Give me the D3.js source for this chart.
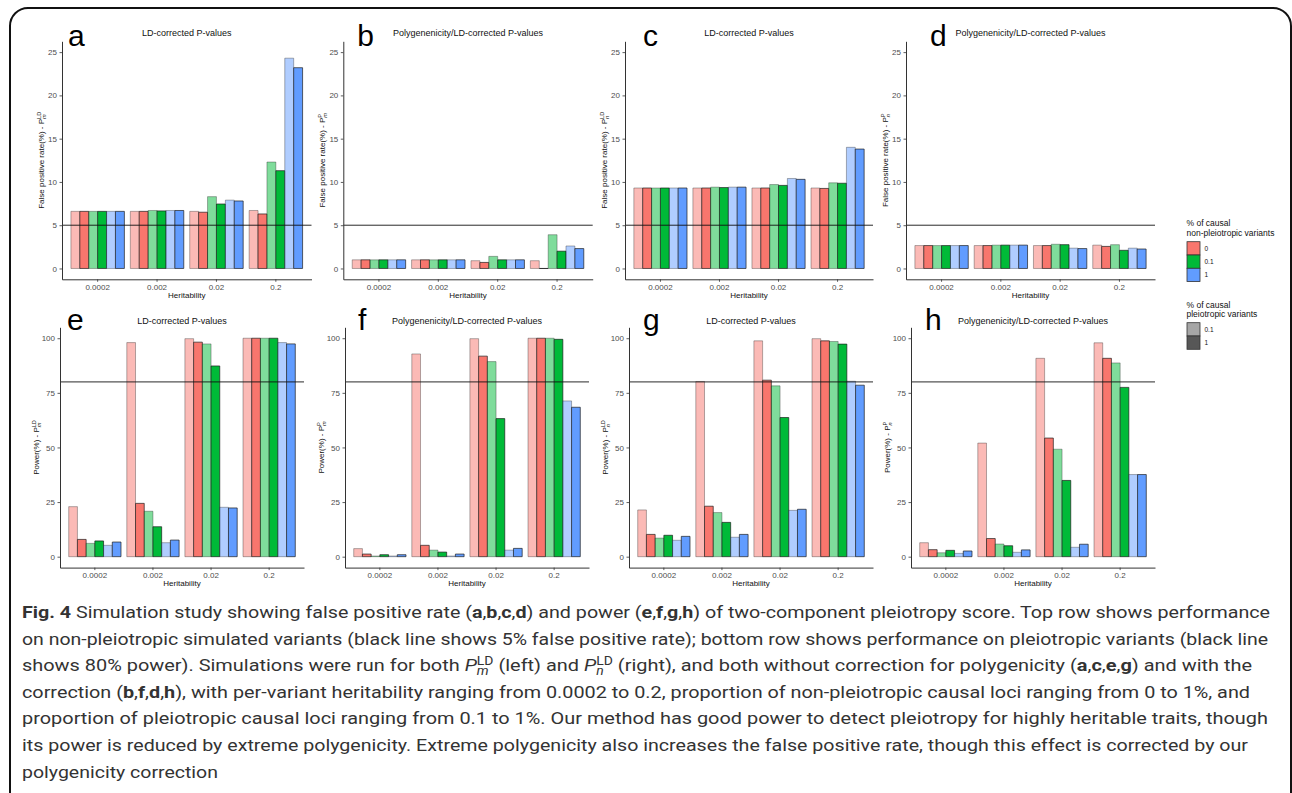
<!DOCTYPE html>
<html>
<head>
<meta charset="utf-8">
<script src="https://cdn.jsdelivr.net/npm/d3@7"></script>
<style>
	body { margin: 0; background: #fff; }
	svg { display: block; font-family: "Liberation Sans", Arial, sans-serif; }
	.caption { font-family: Roboto, "Open Sans", sans-serif; font-weight: 400; }
	.caption .bold { font-weight: 700; }
</style>
</head>
<body>
<svg id="fig" width="1292" height="793"></svg>
<script>
// Categories
const heritability = ["0.0002", "0.002", "0.02", "0.2"]
const nonPleio = ["0", "0.1", "1"]      // fill hue
const pleio = ["0.1", "1"]              // alpha

// Each row = one heritability group, bars in order
// (0,0.1) (0,1) (0.1,0.1) (0.1,1) (1,0.1) (1,1)  -> (non-pleio, pleio)
const fprLdM = [
	[6.6, 6.6, 6.6, 6.6, 6.6, 6.6],
	[6.6, 6.6, 6.7, 6.65, 6.7, 6.7],
	[6.6, 6.5, 8.3, 7.45, 7.9, 7.8],
	[6.7, 6.3, 12.3, 11.3, 24.3, 23.2]
]
const fprPM = [
	[1.0, 1.0, 1.0, 1.0, 1.0, 1.0],
	[1.0, 1.0, 1.0, 1.0, 1.0, 1.0],
	[0.9, 0.7, 1.4, 1.0, 1.0, 1.0],
	[0.9, 0, 3.9, 2.0, 2.6, 2.3]
]
const fprLdN = [
	[9.3, 9.3, 9.3, 9.3, 9.3, 9.3],
	[9.3, 9.3, 9.4, 9.35, 9.4, 9.4],
	[9.3, 9.3, 9.7, 9.6, 10.4, 10.3],
	[9.3, 9.25, 9.9, 9.85, 14.0, 13.8]
]
const fprPN = [
	[2.65, 2.65, 2.65, 2.65, 2.65, 2.65],
	[2.65, 2.65, 2.7, 2.7, 2.7, 2.7],
	[2.65, 2.65, 2.8, 2.75, 2.35, 2.3],
	[2.7, 2.55, 2.75, 2.1, 2.35, 2.25]
]
const powerLdM = [
	[22.9, 7.9, 6.1, 7.2, 5.2, 6.7],
	[98.0, 24.4, 20.8, 13.7, 6.4, 7.6],
	[99.8, 98.2, 97.4, 87.3, 22.6, 22.3],
	[100, 100, 100, 100, 98.0, 97.4]
]
const powerPM = [
	[3.7, 1.2, 0.3, 0.9, 0.3, 0.9],
	[92.8, 5.2, 3.0, 2.1, 0.3, 1.2],
	[99.8, 91.8, 89.3, 63.2, 3.0, 3.8],
	[100, 100, 100, 99.5, 71.3, 68.4]
]
const powerLdN = [
	[21.4, 10.2, 8.5, 9.8, 7.5, 9.3],
	[80.2, 23.1, 20.2, 15.7, 8.9, 10.2],
	[98.8, 80.8, 78.2, 63.7, 21.2, 21.7],
	[99.8, 98.8, 98.5, 97.3, 80.3, 78.5]
]
const powerPN = [
	[6.4, 3.2, 1.8, 2.9, 1.5, 2.6],
	[52.0, 8.3, 5.8, 5.0, 2.0, 3.1],
	[90.8, 54.3, 49.2, 34.9, 4.3, 5.7],
	[97.9, 90.8, 88.7, 77.5, 37.6, 37.6]
]

const fprTicks = [0, 5, 10, 15, 20, 25]
const powerTicks = [0, 25, 50, 75, 100]

const hues = ["#F8766D", "#00BA38", "#619CFF"]
const alphas = [0.5, 1]

const rows = [
	{ domain: [-1.25, 26.25], range: [279.3, 41.3], ticks: fprTicks, ref: 5,
		label: "False positive rate(%) - ", titleY: 33, letterY: 46, xTitleY: 298, yTitleOff: 18 },
	{ domain: [-5, 105], range: [567.6, 327.3], ticks: powerTicks, ref: 80,
		label: "Power(%) - ", titleY: 321, letterY: 330, xTitleY: 586, yTitleOff: 21 }
]

const panels = [
	{ id: "a", row: 0, title: "LD-corrected P-values", sup: "LD", sub: "m", data: fprLdM, x0: 62, x1: 311.5, lx: 6 },
	{ id: "b", row: 0, title: "Polygenenicity/LD-corrected P-values", sup: "P", sub: "m", data: fprPM, x0: 343.3, x1: 592.7, lx: 14 },
	{ id: "c", row: 0, title: "LD-corrected P-values", sup: "LD", sub: "n", data: fprLdN, x0: 625, x1: 873, lx: 18 },
	{ id: "d", row: 0, title: "Polygenenicity/LD-corrected P-values", sup: "P", sub: "n", data: fprPN, x0: 906, x1: 1155, lx: 24 },
	{ id: "e", row: 1, title: "LD-corrected P-values", sup: "LD", sub: "m", data: powerLdM, x0: 60, x1: 304, lx: 7 },
	{ id: "f", row: 1, title: "Polygenenicity/LD-corrected P-values", sup: "P", sub: "m", data: powerPM, x0: 345, x1: 589, lx: 13 },
	{ id: "g", row: 1, title: "LD-corrected P-values", sup: "LD", sub: "n", data: powerLdN, x0: 629, x1: 873, lx: 14 },
	{ id: "h", row: 1, title: "Polygenenicity/LD-corrected P-values", sup: "P", sub: "n", data: powerPN, x0: 911, x1: 1155, lx: 14 }
]

const svg = d3.select("#fig")

// rounded frame round the whole figure
svg.append("rect")
	.attr("x", 10).attr("y", 8)
	.attr("width", 1281).attr("height", 840)
	.attr("rx", 18)
	.attr("fill", "none")
	.attr("stroke", "#111")
	.attr("stroke-width", 2)

panels.forEach(p => drawPanel(p, rows[p.row]))
drawLegends()
drawCaption()

/**
 * Appends P with a stacked superscript / subscript into a text selection.
 * Returns the offsets that the next tspan must use.
 */
function appendMath(text, base, sup, sub, fs, italicBase, pending) {
	let t = text.append("tspan").text(base)
	if (italicBase) t.attr("font-style", "italic")
	if (pending) t.attr("dx", pending.dx).attr("dy", pending.dy)
	let s = text.append("tspan")
		.attr("font-size", fs * 0.7)
		.attr("dy", -fs * 0.38)
		.text(sup)
	let supW = s.node().getComputedTextLength()
	let b = text.append("tspan")
		.attr("font-size", fs * 0.7)
		.attr("font-style", "italic")
		.attr("dx", -supW)
		.attr("dy", fs * 0.62)
		.text(sub)
	let subW = b.node().getComputedTextLength()
	return { dx: Math.max(0, supW - subW), dy: -fs * 0.24 }
}

function drawPanel(p, row) {
	let g = svg.append("g")

	let x = d3.scaleBand()
		.domain(heritability)
		.range([p.x0, p.x1])
		.paddingInner(0.1)
		.paddingOuter(0.15)
	let xi = d3.scaleBand()
		.domain(d3.range(6))
		.range([0, x.bandwidth()])
	let y = d3.scaleLinear().domain(row.domain).range(row.range)

	// bars
	heritability.forEach((h, gi) => {
		p.data[gi].forEach((v, j) => {
			let hue = hues[Math.floor(j / 2)], a = alphas[j % 2]
			let bx = x(h) + xi(j), bw = xi.bandwidth()
			g.append("path")
				.attr("d", `M${bx},${y(0)}V${y(v)}H${bx + bw}V${y(0)}Z`)
				.attr("fill", hue)
				.attr("fill-opacity", a)
				.attr("stroke", "#1a1a1a")
				.attr("stroke-opacity", a * 0.85)
				.attr("stroke-width", 0.8)
		})
	})

	// reference line
	g.append("line")
		.attr("x1", p.x0).attr("x2", p.x1)
		.attr("y1", y(row.ref)).attr("y2", y(row.ref))
		.attr("stroke", "#111")
		.attr("stroke-width", 0.9)

	// axes
	let yAxis = g.append("g")
		.attr("transform", `translate(${p.x0},0)`)
		.call(d3.axisLeft(y).tickValues(row.ticks).tickSize(2.5).tickSizeOuter(0).tickPadding(2.5))
	let xAxis = g.append("g")
		.attr("transform", `translate(0,${row.range[0]})`)
		.call(d3.axisBottom(x).tickSize(2.5).tickSizeOuter(0).tickPadding(2.5))
	;[xAxis, yAxis].forEach(ax => {
		ax.select(".domain").attr("stroke", "#333").attr("stroke-width", 1)
		ax.selectAll(".tick line").attr("stroke", "#333").attr("stroke-width", 0.8)
		ax.selectAll(".tick text")
			.attr("fill", "#4d4d4d")
			.attr("font-size", 8)
			.attr("font-family", "Liberation Sans, Arial, sans-serif")
	})

	// axis titles
	g.append("text")
		.attr("x", (p.x0 + p.x1) / 2)
		.attr("y", row.xTitleY)
		.attr("text-anchor", "middle")
		.attr("font-size", 8)
		.attr("fill", "#111")
		.text("Heritability")

	let yt = g.append("text")
		.attr("transform", `translate(${p.x0 - row.yTitleOff},${(row.range[0] + row.range[1]) / 2}) rotate(-90)`)
		.attr("text-anchor", "middle")
		.attr("font-size", 8)
		.attr("fill", "#111")
	yt.append("tspan").text(row.label)
	appendMath(yt, "P", p.sup, p.sub, 8, false)

	// title and panel letter
	g.append("text")
		.attr("x", (p.x0 + p.x1) / 2)
		.attr("y", row.titleY + 3)
		.attr("text-anchor", "middle")
		.attr("font-size", 9)
		.attr("fill", "#111")
		.text(p.title)

	g.append("text")
		.attr("x", p.x0 + p.lx)
		.attr("y", row.letterY)
		.attr("font-size", 30)
		.attr("fill", "#000")
		.text(p.id)
}

function drawLegends() {
	let lg = svg.append("g").attr("transform", "translate(1186.5,0)")
	let keyH = 13.3

	let groups = [
		{ title: ["% of causal", "non-pleiotropic variants"], ty: 226, ky: 241.7,
			keys: nonPleio.map((k, i) => ({ label: k, fill: hues[i] })) },
		{ title: ["% of causal", "pleiotropic variants"], ty: 307.5, ky: 322.7,
			keys: pleio.map((k, i) => ({ label: k, fill: i === 0 ? "#a6a6a6" : "#575757" })) }
	]

	groups.forEach(gr => {
		gr.title.forEach((t, i) => {
			lg.append("text")
				.attr("x", 0).attr("y", gr.ty + i * 9.8)
				.attr("font-size", 8.5)
				.attr("fill", "#111")
				.text(t)
		})
		gr.keys.forEach((k, i) => {
			lg.append("rect")
				.attr("x", 0.5).attr("y", gr.ky + i * keyH)
				.attr("width", 13).attr("height", keyH)
				.attr("fill", k.fill)
				.attr("stroke", "#333")
				.attr("stroke-width", 0.8)
			lg.append("text")
				.attr("x", 18).attr("y", gr.ky + i * keyH + keyH / 2 + 2.3)
				.attr("font-size", 6.5)
				.attr("fill", "#111")
				.text(k.label)
		})
	})
}

function drawCaption() {
	const B = s => ({ strong: s })
	const letters = l => l.flatMap((c, i) => i ? [",", B(c)] : [B(c)])
	const M = (sub) => ({ math: ["P", "LD", sub] })

	let lines = [
		{ end: 1270, parts: [B("Fig. 4"), " Simulation study showing false positive rate (", ...letters(["a", "b", "c", "d"]),
			") and power (", ...letters(["e", "f", "g", "h"]), ") of two-component pleiotropy score. Top row shows performance"] },
		{ end: 1268, parts: ["on non-pleiotropic simulated variants (black line shows 5% false positive rate); bottom row shows performance on pleiotropic variants (black line"] },
		{ end: 1252, parts: ["shows 80% power). Simulations were run for both ", M("m"), " (left) and ", M("n"),
			" (right), and both without correction for polygenicity (", ...letters(["a", "c", "e", "g"]), ") and with the"] },
		{ end: 1250, parts: ["correction (", ...letters(["b", "f", "d", "h"]),
			"), with per-variant heritability ranging from 0.0002 to 0.2, proportion of non-pleiotropic causal loci ranging from 0 to 1%, and"] },
		{ end: 1268, parts: ["proportion of pleiotropic causal loci ranging from 0.1 to 1%. Our method has good power to detect pleiotropy for highly heritable traits, though"] },
		{ end: 1248, parts: ["its power is reduced by extreme polygenicity. Extreme polygenicity also increases the false positive rate, though this effect is corrected by our"] },
		{ end: 218, parts: ["polygenicity correction"] }
	]

	let x0 = 22, y0 = 618, lh = 26.6, fs = 17
	lines.forEach((ln, i) => {
		let t = svg.append("text")
			.attr("class", "caption")
			.attr("x", x0).attr("y", y0 + i * lh)
			.attr("font-size", fs)
			.attr("fill", "#333")
		let pending = null
		ln.parts.forEach(p => {
			if (p.math) {
				pending = appendMath(t, p.math[0], p.math[1], p.math[2], fs, true, pending)
				return
			}
			let isString = typeof p === "string"
			let s = t.append("tspan").text(isString ? p : p.strong)
			if (!isString) s.attr("class", "bold")
			if (pending) { s.attr("dx", pending.dx).attr("dy", pending.dy); pending = null }
		})
		t.attr("textLength", ln.end - x0).attr("lengthAdjust", "spacingAndGlyphs")
	})
}
</script>
</body>
</html>
